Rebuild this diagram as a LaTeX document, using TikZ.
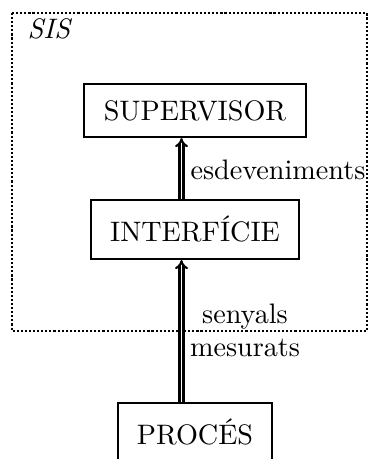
\documentclass[tikz,border=0pt]{standalone}
\usetikzlibrary{arrows.meta}
\begin{document}
\begin{tikzpicture}[x=0.355pt,y=-0.355pt,
  box/.style={draw, line width=0.8pt, inner sep=0pt},
  dbl/.style={double, double distance=0.7pt, line width=0.75pt, -{Implies[length=4.8pt, width=7pt]}},
  lbl/.style={inner sep=0pt}]
\useasboundingbox (0,0) rectangle (370,459);
\clip (0,0) rectangle (370,459);
\draw[line width=0.75pt, dash pattern=on 0.75pt off 0.7pt] (12,13) rectangle (367,331);
\node[lbl, anchor=base west] (sis) at (27,39) {\itshape SIS};
\node[box, minimum width=78.8pt, minimum height=18.8pt] (sup) at (195,110.5) {SUPERVISOR};
\node[box, minimum width=73.8pt, minimum height=20.9pt] (int) at (195,229.5) {INTERF\'ICIE};
\node[box, minimum width=54.7pt, minimum height=20.9pt] (proc) at (195,432.5) {PROC\'ES};
\coordinate (ax) at (181.5,0);
\draw[dbl] (int.north -| ax) -- (sup.south -| ax);
\draw[dbl] (proc.north -| ax) -- (int.south -| ax);
\node[lbl, anchor=base west] (esd) at (190,180) {esdeveniments};
\node[lbl, anchor=base] (sen) at (245,323) {senyals};
\node[lbl, anchor=base] (mes) at (245,356) {mesurats};
\end{tikzpicture}
\end{document}
